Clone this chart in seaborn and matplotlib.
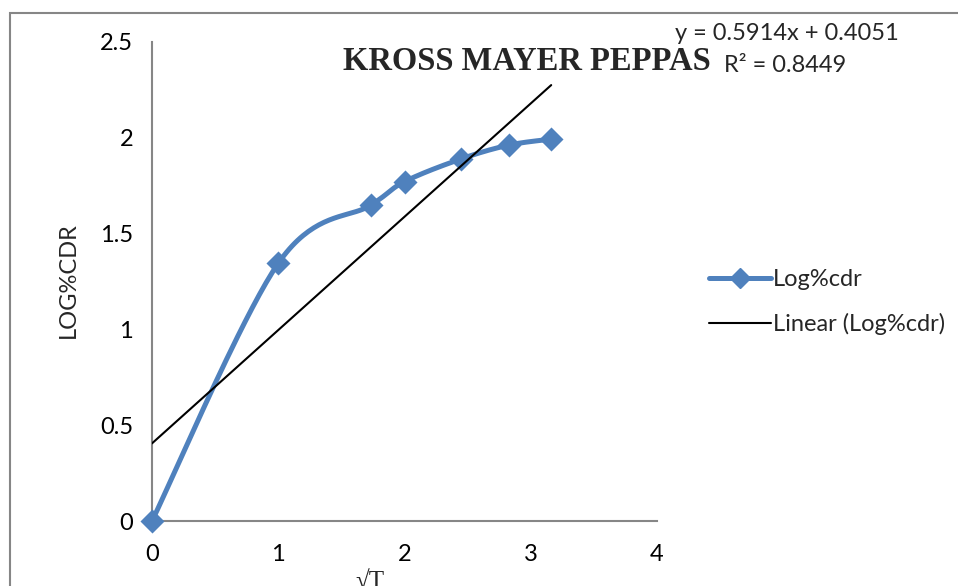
import numpy as np
import pandas as pd
import matplotlib
matplotlib.use("Agg")
import matplotlib.pyplot as plt
import seaborn as sns
from matplotlib.lines import Line2D
from matplotlib.patches import Rectangle

sns.set_style("white")
plt.rcParams['font.family'] = ['Lato', 'DejaVu Sans']

## data ##
sqrt_t = [0, 1, 1.732, 2, 2.449, 2.828, 3.162]
log_cdr = [0, 1.345, 1.648, 1.771, 1.890, 1.962, 1.993]
slope = 0.5914
intercept = 0.4051
r2 = 0.8449

blue = '#4F81BD'
grey = '#868686'

fig = plt.figure(figsize=(9.58, 5.86), dpi=100)
ax = fig.add_axes([152/958, 1-521/586, 505/958, 479/586])

# smoothed curve like Excel (bezier through the points, in screen space)
sx = 505/4.0
sy = 479/2.5
P = np.column_stack([np.array(sqrt_t)*sx, np.array(log_cdr)*sy])
pts = []
t = np.linspace(0, 1, 40)
for i in range(len(P)-1):
    p0 = P[i-1] if i > 0 else P[i]
    p1, p2 = P[i], P[i+1]
    p3 = P[i+2] if i+2 < len(P) else P[i+1]
    c1 = p1 + (p2-p0)/6
    c2 = p2 - (p3-p1)/6
    seg = ((1-t)**3)[:, None]*p1 + (3*(1-t)**2*t)[:, None]*c1 + (3*(1-t)*t**2)[:, None]*c2 + (t**3)[:, None]*p2
    pts.append(seg)
pts = np.vstack(pts)
curve = pd.DataFrame({'x': pts[:, 0]/sx, 'y': pts[:, 1]/sy})
ax.plot(curve['x'], curve['y'], color=blue, linewidth=3.6, solid_capstyle='round', zorder=3)

df = pd.DataFrame({'x': sqrt_t, 'y': log_cdr})
sns.scatterplot(data=df, x='x', y='y', marker='D', s=150, color=blue,
                edgecolor=blue, linewidth=0, ax=ax, zorder=4, clip_on=False)

# linear trend
xt = np.array([0, max(sqrt_t)])
trend = pd.DataFrame({'x': xt, 'y': slope*xt + intercept})
sns.lineplot(data=trend, x='x', y='y', color='black', linewidth=1.5, ax=ax, zorder=5)

ax.set_xlim(0, 4)
ax.set_ylim(0, 2.5)
ax.set_xticks([0, 1, 2, 3, 4])
ax.set_yticks([0, 0.5, 1, 1.5, 2, 2.5])
ax.set_yticklabels(['0', '0.5', '1', '1.5', '2', '2.5'])
ax.set_xlabel('')
sns.despine(ax=ax)
for s in ['left', 'bottom']:
    ax.spines[s].set_color(grey)
    ax.spines[s].set_linewidth(1.5)
ax.tick_params(axis='both', direction='out', length=4.5, width=1.5, color=grey,
               labelsize=17, labelcolor='black')
ax.tick_params(axis='y', pad=9)
ax.tick_params(axis='x', pad=12)

ax.set_ylabel('LOG%CDR', fontsize=17, va='center')
ax.yaxis.set_label_coords(-0.166, 0.503)
ax.set_xlabel('√T', fontsize=18, family=['Liberation Serif', 'DejaVu Serif'], va='top')
ax.xaxis.set_label_coords(0.432, -0.104)

fig.text(527/958, 1-62/586, 'KROSS MAYER PEPPAS', ha='center', va='center',
         fontsize=23.5, fontweight='bold', family=['Liberation Serif', 'DejaVu Serif'])
fig.text(787/958, 1-33/586, 'y = 0.5914x + 0.4051', ha='center', va='center', fontsize=17)
fig.text(785/958, 1-65/586, 'R² = 0.8449', ha='center', va='center', fontsize=17)

handles = [Line2D([0], [0], color=blue, linewidth=3.6, marker='D', markersize=10),
           Line2D([0], [0], color='black', linewidth=1.5)]
fig.legend(handles, ['Log%cdr', 'Linear (Log%cdr)'], loc='upper left',
           bbox_to_anchor=(700/958, 1-260/586), frameon=False, fontsize=17,
           handlelength=2.6, handletextpad=0.1, labelspacing=0.95, borderaxespad=0)

# outer chart frame
fig.patches.append(Rectangle((10/958, -0.1), 1.2, 1-13/586+0.1, transform=fig.transFigure,
                             fill=False, edgecolor=grey, linewidth=1.5))

fig.savefig('out.png', dpi=100)
